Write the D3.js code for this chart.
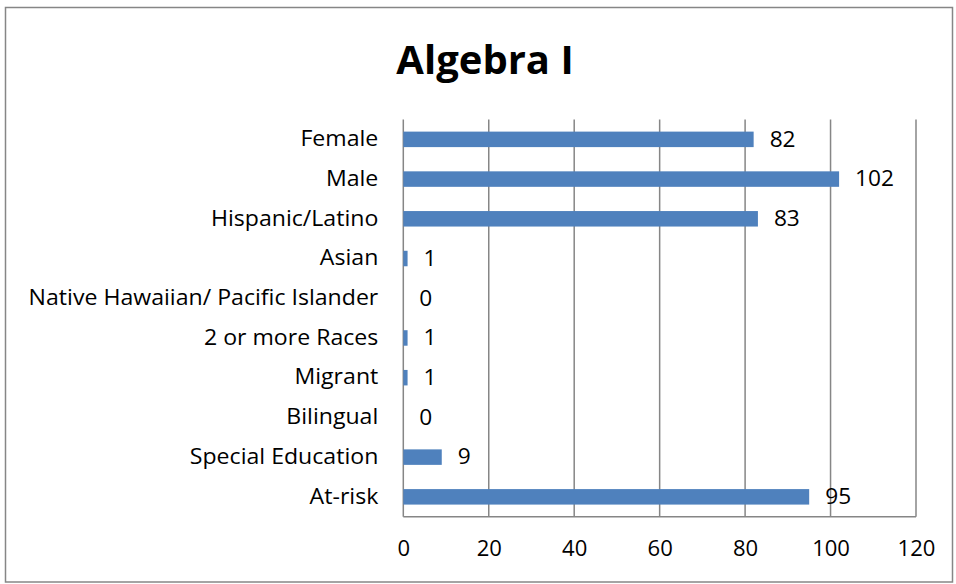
<!DOCTYPE html>
<html><head><meta charset="utf-8">
<script src="https://cdn.jsdelivr.net/npm/d3@7"></script>
<style>body{margin:0;background:#fff}svg{display:block}text{font-family:"Open Sans","Liberation Sans",sans-serif;fill:#000}</style>
</head><body><svg id="c" width="956" height="584"></svg>
<script>
const categories = ["Female","Male","Hispanic/Latino","Asian","Native Hawaiian/ Pacific Islander","2 or more Races","Migrant","Bilingual","Special Education","At-risk"];
const values = [82,102,83,1,0,1,1,0,9,95];
const ticks = [0,20,40,60,80,100,120];
const title = "Algebra I";
const FONT = "'Open Sans', 'Liberation Sans', sans-serif";

function stretch(sel, k){
  sel.each(function(){
    const w = this.getComputedTextLength();
    d3.select(this).attr("textLength", w*k).attr("lengthAdjust","spacingAndGlyphs");
  });
}

const svg = d3.select("#c");
svg.append("rect").attr("x",5.5).attr("y",7.5).attr("width",947).attr("height",574.5)
  .attr("fill","#fff").attr("stroke","#868686").attr("stroke-width",1.5);

const L=403.3,R=916,T=119.5,B=516.7;
const x = d3.scaleLinear().domain([0,120]).range([L,R]);
const y = d3.scaleBand().domain(categories).range([T,B]).paddingInner(0.61).paddingOuter(0.305);

// gridlines
svg.append("g").selectAll("line").data(ticks).join("line")
  .attr("x1",d=>x(d)).attr("x2",d=>x(d)).attr("y1",T).attr("y2",B)
  .attr("stroke","#868686").attr("stroke-width",1.5);
svg.append("line").attr("x1",L).attr("x2",R).attr("y1",B).attr("y2",B).attr("stroke","#868686").attr("stroke-width",1.5);

// x axis
const xa = svg.append("g").attr("transform",`translate(0,${B})`).call(d3.axisBottom(x).tickValues(ticks).tickSize(0).tickPadding(24));
xa.select(".domain").remove();
xa.selectAll("text").style("font-size","21px").style("font-family",FONT).attr("fill","#000");
stretch(xa.selectAll("text"),1.05);

// y axis
const ya = svg.append("g").attr("transform",`translate(${L},0)`).call(d3.axisLeft(y).tickSize(0).tickPadding(25));
ya.select(".domain").remove();
ya.selectAll("text").style("font-size","21px").style("font-family",FONT).attr("fill","#000");
stretch(ya.selectAll("text"),1.1);

// bars
svg.append("g").selectAll("rect").data(values).join("rect")
  .attr("x",x(0)).attr("y",(d,i)=>y(categories[i]))
  .attr("width",d=>x(d)-x(0)).attr("height",y.bandwidth())
  .attr("fill","#4F81BD");

// value labels
const vl = svg.append("g").selectAll("text").data(values).join("text")
  .attr("x",d=>x(d)+16).attr("y",(d,i)=>y(categories[i])+y.bandwidth()/2)
  .attr("dy","0.35em").style("font-size","21px").text(d=>d);
stretch(vl,1.08);

svg.append("text").attr("x",485).attr("y",74).attr("text-anchor","middle")
  .style("font-size","40px").style("font-weight","bold").text(title);
</script></body></html>
